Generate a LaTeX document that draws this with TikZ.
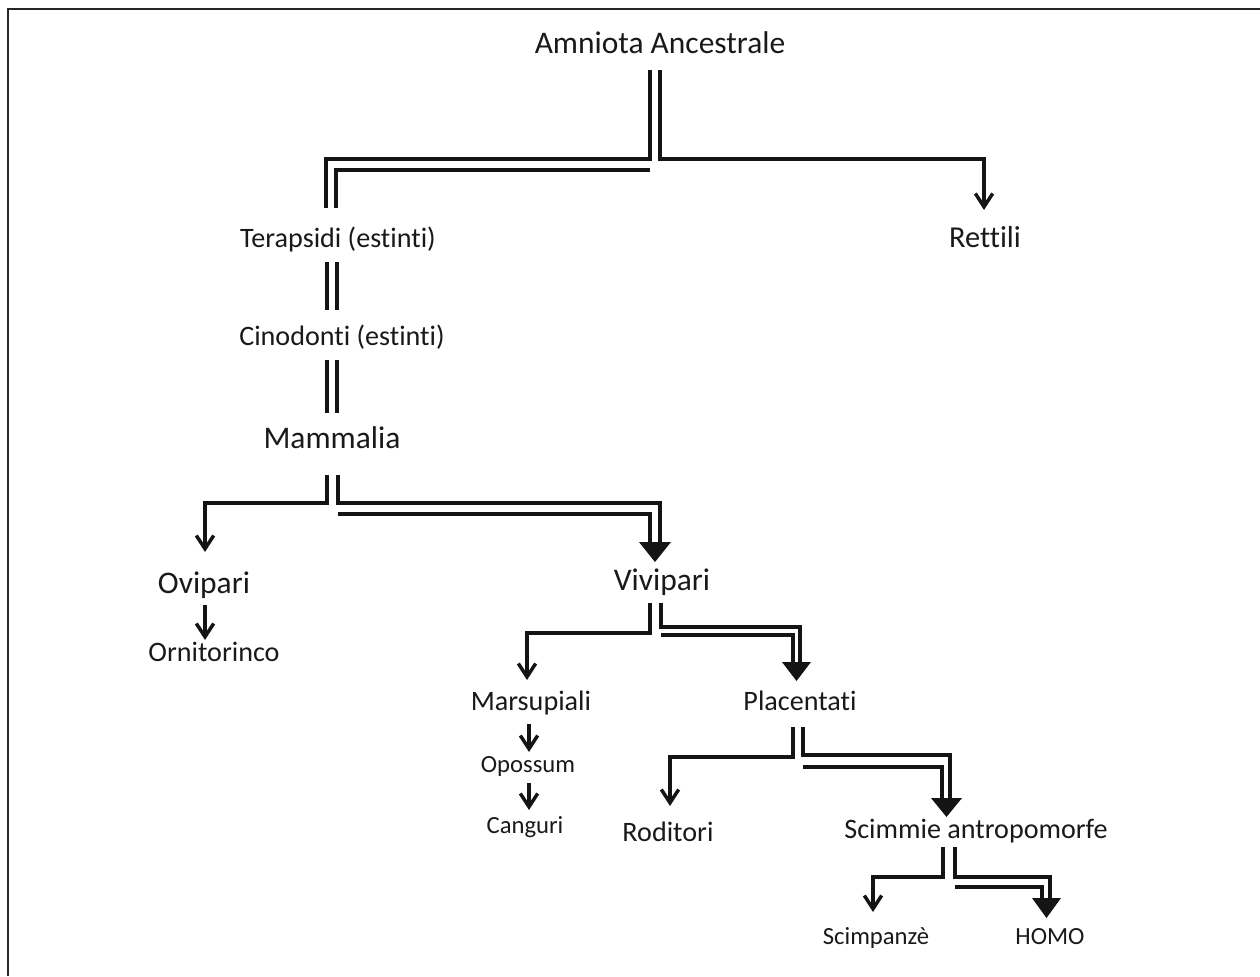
\documentclass[tikz,border=0pt]{standalone}
\usepackage{fontspec}
\setmainfont{Carlito}[Ligatures={NoCommon,NoContextual}]
\usetikzlibrary{arrows.meta,calc}

\begin{document}
\begin{tikzpicture}[x=0.75pt,y=-0.75pt,
  lbl/.style={anchor=base,inner sep=0pt,text=black!90},
  big/.style={lbl,font=\fontsize{23.6}{26}\selectfont},
  bigs/.style={lbl,font=\fontsize{22.8}{25}\selectfont},
  mid/.style={lbl,font=\fontsize{21.1}{24}\selectfont},
  sml/.style={lbl,font=\fontsize{18.5}{21}\selectfont},
  wire/.style={line width=2.6pt,black!92},
  onearrow/.style={wire,-{Straight Barb[length=10pt,width=13pt]}},
  fathead/.style={fill=black!92}]
\useasboundingbox (0,0) rectangle (1260,976);

% frame (top and left edges)
\draw[line width=1.6pt,black!85] (8,976) -- (8,9) -- (1260,9);

% taxa
\node[big]  (amn) at (660,53)  {Amniota Ancestrale};
\node[mid]  (ter) at (338,247) {Terapsidi (estinti)};
\node[bigs] (ret) at (985,247) {Rettili};
\node[mid]  (cin) at (342,345) {Cinodonti (estinti)};
\node[big]  (mam) at (332,448) {Mammalia};
\node[big]  (ovi) at (204,593) {Ovipari};
\node[mid]  (orn) at (214,661) {Ornitorinco};
\node[big]  (viv) at (662,590) {Vivipari};
\node[mid]  (mar) at (531,710) {Marsupiali};
\node[mid]  (pla) at (800,710) {Placentati};
\node[sml]  (opo) at (528,772) {Opossum};
\node[sml]  (can) at (525,833) {Canguri};
\node[mid]  (rod) at (668,841) {Roditori};
\node[mid]  (sci) at (976,838) {Scimmie antropomorfe};
\node[sml]  (scp) at (876,944) {Scimpanzè};
\node[sml]  (hom) at (1050,944) {HOMO};

% junction coordinates below each parent
\coordinate (jA) at (655,70);
\coordinate (jM) at (332.5,475);
\coordinate (jV) at (655.5,603);
\coordinate (jP) at (798,727);
\coordinate (jS) at (949,847);

% Amniota Ancestrale: double line to Terapsidi, single arrow to Rettili
\draw[wire] ($(jA)+(-5,0)$) -- ++(0,89) -| (326,208);
\draw[wire] (336,208) |- ($(jA)+(-5,100)$);
\draw[onearrow] ($(jA)+(5,0)$) -- ++(0,89) -| (984,210);

% Terapsidi -> Cinodonti -> Mammalia (double lines)
\draw[wire] (327,262) -- (327,310);
\draw[wire] (337,262) -- (337,310);
\draw[wire] (327,360) -- (327,413);
\draw[wire] (337,360) -- (337,413);

% Mammalia: Ovipari (single), Vivipari (double, fat head)
\draw[onearrow] ($(jM)+(-5.5,0)$) -- ++(0,28) -| (205,552);
\draw[wire] ($(jM)+(5.5,0)$) -- ++(0,28) -| (660,543);
\draw[wire] ($(jM)+(5.5,39)$) -| (650,543);
\fill[fathead] (639,542) -- (671,542) -- (655,562) -- cycle;

% Ovipari -> Ornitorinco
\draw[onearrow] (205,605) -- (205,640);

% Vivipari: Marsupiali (single), Placentati (double, fat head)
\draw[onearrow] ($(jV)+(-5.5,0)$) -- ++(0,30) -| (527,680);
\draw[wire] ($(jV)+(5.5,0)$) -- ++(0,24) -| (800,663);
\draw[wire] ($(jV)+(5.5,32)$) -| (793,663);
\fill[fathead] (782,662) -- (811,662) -- (796.5,681) -- cycle;

% Marsupiali -> Opossum -> Canguri
\draw[onearrow] (529,724) -- (529,752);
\draw[onearrow] (529,783) -- (529,810);

% Placentati: Roditori (single), Scimmie antropomorfe (double, fat head)
\draw[onearrow] ($(jP)+(-5,0)$) -- ++(0,30) -| (670,806);
\draw[wire] ($(jP)+(5,0)$) -- ++(0,28) -| (950,799);
\draw[wire] ($(jP)+(5,40)$) -| (942,799);
\fill[fathead] (931,798) -- (962,798) -- (946.5,817) -- cycle;

% Scimmie antropomorfe: Scimpanzè (single), HOMO (double, fat head)
\draw[onearrow] ($(jS)+(-6,0)$) -- ++(0,30) -| (873,912);
\draw[wire] ($(jS)+(6,0)$) -- ++(0,30) -| (1050,899);
\draw[wire] ($(jS)+(6,40)$) -| (1042,899);
\fill[fathead] (1032,898) -- (1061,898) -- (1046.5,918) -- cycle;
\end{tikzpicture}
\end{document}
